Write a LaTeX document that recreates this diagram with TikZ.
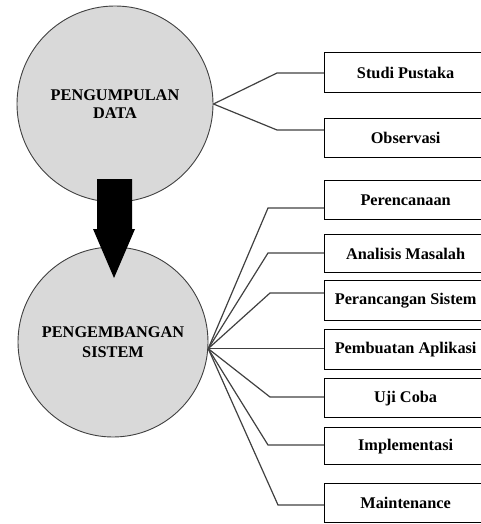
\documentclass[tikz,border=0pt]{standalone}
\usepackage{fontspec}
\setmainfont{Liberation Serif}
\begin{document}
\begin{tikzpicture}[x=1pt,y=-1pt,
  phase/.style={circle,draw=black!75,line width=0.9pt,fill=black!15,inner sep=0pt,align=center},
  stepbox/.style={draw=black,line width=1.3pt,fill=white,minimum width=162pt,minimum height=39pt,inner sep=0pt,
    anchor=north west,font=\fontsize{16.3}{18}\selectfont\bfseries},
  link/.style={draw=black!75,line width=1.2pt}]
\useasboundingbox (0,0) rectangle (481,524);
% circles
\node[phase,minimum size=196pt,font=\fontsize{16.3}{17.5}\selectfont\bfseries] (c1) at (115,104) {PENGUMPULAN\\DATA};
\node[phase,minimum size=190pt,font=\fontsize{16.3}{20.5}\selectfont\bfseries] (c2) at (113,342) {PENGEMBANGAN\\SISTEM};
% big arrow
\fill[black] (97,179) -- (132,179) -- (132,229) -- (135,229) -- (114,278) -- (93,229) -- (97,229) -- cycle;
% boxes
\node[stepbox,minimum height=40pt] (b1) at (324,52) {Studi Pustaka};
\node[stepbox] (b2) at (324,118) {Observasi};
\node[stepbox] (b3) at (324,180) {Perencanaan};
\node[stepbox,minimum height=38pt] (b4) at (324,234) {Analisis Masalah};
\node[stepbox,minimum height=40pt] (b5) at (324,280) {Perancangan Sistem};
\node[stepbox,minimum height=40pt] (b6) at (324,329) {Pembuatan Aplikasi};
\node[stepbox] (b7) at (324,378) {Uji Coba};
\node[stepbox,minimum height=37pt] (b8) at (324,427) {Implementasi};
\node[stepbox] (b9) at (324,483) {Maintenance};
% junctions
\coordinate (j1) at (c1.east);
\coordinate (j2) at (c2.-4);
% connectors
\draw[link] (j1) -- (277,73) -- (b1.west |- 277,73);
\draw[link] (j1) -- (277,130) -- (b2.west |- 277,130);
\draw[link] (j2) -- (268,208) -- (b3.west |- 268,208);
\draw[link] (j2) -- (268,253) -- (b4.west |- 268,253);
\draw[link] (j2) -- (270,293) -- (b5.west |- 270,293);
\draw[link] (j2) -- (b6.west |- j2);
\draw[link] (j2) -- (270,397) -- (b7.west |- 270,397);
\draw[link] (j2) -- (268,445) -- (b8.west |- 268,445);
\draw[link] (j2) -- (278,505) -- (b9.west |- 278,505);
\end{tikzpicture}
\end{document}
